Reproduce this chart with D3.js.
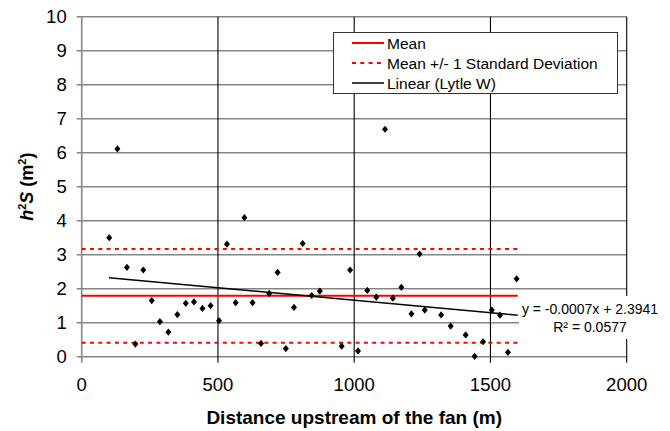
<!DOCTYPE html>
<html>
<head>
<meta charset="utf-8">
<script src="https://cdn.jsdelivr.net/npm/d3@7"></script>
<style>
  body { margin: 0; background: #fff; }
  svg { display: block; font-family: "Liberation Sans", Arial, sans-serif; }
</style>
</head>
<body>
<div id="chart"></div>
<script>
// distance upstream (m) and h^2 S (m^2)
var distance = [101, 131, 166, 197, 226, 257, 287, 318, 351, 382, 412, 443, 473, 504, 533,
  565, 597, 627, 658, 688, 719, 749, 779, 811, 844, 874, 954, 985, 1014, 1048,
  1081, 1113, 1142, 1173, 1210, 1240, 1259, 1319, 1354, 1409, 1442, 1473, 1505, 1535, 1564, 1596];
var h2s = [3.50, 6.11, 2.63, 0.37, 2.55, 1.65, 1.03, 0.72, 1.24, 1.57, 1.61, 1.42, 1.50, 1.06, 3.31,
  1.59, 4.09, 1.59, 0.39, 1.86, 2.48, 0.24, 1.45, 3.33, 1.80, 1.93, 0.31, 2.55, 0.17, 1.95,
  1.75, 6.69, 1.72, 2.04, 1.26, 3.02, 1.37, 1.23, 0.90, 0.64, 0.01, 0.44, 1.37, 1.22, 0.13, 2.29];

var meanValue = 1.79;
var sdBands = [3.17, 0.41];
var refLineX = [0, 1600];
var trendX = [100, 1600];
var trendY = [2.32, 1.22];

var xTicks = [0, 500, 1000, 1500, 2000];
var yTicks = [0, 1, 2, 3, 4, 5, 6, 7, 8, 9, 10];
var legendLabels = ["Mean", "Mean +/- 1 Standard Deviation", "Linear (Lytle W)"];
var equationLines = ["y = -0.0007x + 2.3941", "R\u00b2 = 0.0577"];

var width = 670, height = 431;
var svg = d3.select("#chart").append("svg")
  .attr("width", width)
  .attr("height", height);

var x = d3.scaleLinear().domain([0, 2000]).range([81.7, 626.7]);
var y = d3.scaleLinear().domain([0, 10]).range([356.7, 16.7]);

// horizontal grid (grey) - also forms the y ticks
svg.append("g").selectAll("line")
  .data(yTicks)
  .enter().append("line")
  .attr("x1", x(0) - 5).attr("x2", x(2000))
  .attr("y1", d => y(d)).attr("y2", d => y(d))
  .attr("stroke", "#858585")
  .attr("stroke-width", 1.6);

// vertical grid (black)
svg.append("g").selectAll("line")
  .data(xTicks.slice(1))
  .enter().append("line")
  .attr("x1", d => x(d)).attr("x2", d => x(d))
  .attr("y1", y(10)).attr("y2", y(0) + 6)
  .attr("stroke", "#000")
  .attr("stroke-width", 1.1);

// left axis
svg.append("line")
  .attr("x1", x(0)).attr("x2", x(0))
  .attr("y1", y(10)).attr("y2", y(0) + 6)
  .attr("stroke", "#858585")
  .attr("stroke-width", 1.6);

// tick labels
svg.append("g").selectAll("text")
  .data(yTicks)
  .enter().append("text")
  .attr("x", x(0) - 15)
  .attr("y", d => y(d) + 6.5)
  .attr("text-anchor", "end")
  .attr("font-size", 18.5)
  .attr("fill", "#000")
  .text(d => d);

svg.append("g").selectAll("text")
  .data(xTicks)
  .enter().append("text")
  .attr("x", d => x(d))
  .attr("y", 391)
  .attr("text-anchor", "middle")
  .attr("font-size", 18.5)
  .attr("fill", "#000")
  .text(d => d);

// mean and +/- 1 SD
svg.append("line")
  .attr("x1", x(refLineX[0])).attr("x2", x(refLineX[1]))
  .attr("y1", y(meanValue)).attr("y2", y(meanValue))
  .attr("stroke", "#ff0000")
  .attr("stroke-width", 2);

svg.append("g").selectAll("line")
  .data(sdBands)
  .enter().append("line")
  .attr("x1", x(refLineX[0])).attr("x2", x(refLineX[1]))
  .attr("y1", d => y(d)).attr("y2", d => y(d))
  .attr("stroke", "#ff0000")
  .attr("stroke-width", 2)
  .attr("stroke-dasharray", "4,4.3");

// trend line
svg.append("line")
  .attr("x1", x(trendX[0])).attr("x2", x(trendX[1]))
  .attr("y1", y(trendY[0])).attr("y2", y(trendY[1]))
  .attr("stroke", "#000")
  .attr("stroke-width", 1.5);

// points
var diamond = "M0,-3.6L3,0L0,3.6L-3,0Z";
svg.append("g").selectAll("path")
  .data(distance)
  .enter().append("path")
  .attr("d", diamond)
  .attr("transform", (d, i) => "translate(" + x(d) + "," + y(h2s[i]) + ")")
  .attr("fill", "#000");

// equation label
svg.append("rect")
  .attr("x", 519).attr("y", 296)
  .attr("width", 142).attr("height", 43)
  .attr("fill", "#fff");

svg.append("g").selectAll("text")
  .data(equationLines)
  .enter().append("text")
  .attr("x", 590)
  .attr("y", (d, i) => 314 + i * 18)
  .attr("text-anchor", "middle")
  .attr("font-size", 14)
  .attr("fill", "#000")
  .text(d => d);

// legend
var legend = svg.append("g");
legend.append("rect")
  .attr("x", 333.5).attr("y", 32.5)
  .attr("width", 284).attr("height", 61)
  .attr("fill", "#fff")
  .attr("stroke", "#333")
  .attr("stroke-width", 1);

var legendRows = legend.selectAll("g")
  .data(legendLabels)
  .enter().append("g")
  .attr("transform", (d, i) => "translate(0," + (43 + i * 20) + ")");

legendRows.append("line")
  .attr("x1", 352).attr("x2", 384)
  .attr("stroke", (d, i) => i < 2 ? "#ff0000" : "#000")
  .attr("stroke-width", (d, i) => i < 2 ? 2 : 1.5)
  .attr("stroke-dasharray", (d, i) => i == 1 ? "4,4.3" : null);

legendRows.append("text")
  .attr("x", 387)
  .attr("y", 5.5)
  .attr("font-size", 15.5)
  .attr("fill", "#000")
  .text(d => d);

// axis titles
svg.append("text")
  .attr("x", (x(0) + x(2000)) / 2)
  .attr("y", 424)
  .attr("text-anchor", "middle")
  .attr("font-size", 19)
  .attr("font-weight", "bold")
  .attr("fill", "#000")
  .text("Distance upstream of the fan (m)");

var yTitle = svg.append("text")
  .attr("transform", "translate(33," + (y(0) + y(10)) / 2 + ") rotate(-90)")
  .attr("text-anchor", "middle")
  .attr("font-size", 18)
  .attr("font-weight", "bold")
  .attr("fill", "#000");
yTitle.append("tspan").attr("font-style", "italic").text("h");
yTitle.append("tspan").attr("font-size", 11).attr("dy", -7).text("2");
yTitle.append("tspan").attr("font-style", "italic").attr("dy", 7).text("S");
yTitle.append("tspan").text(" (m");
yTitle.append("tspan").attr("font-size", 11).attr("dy", -7).text("2");
yTitle.append("tspan").attr("dy", 7).text(")");
</script>
</body>
</html>
